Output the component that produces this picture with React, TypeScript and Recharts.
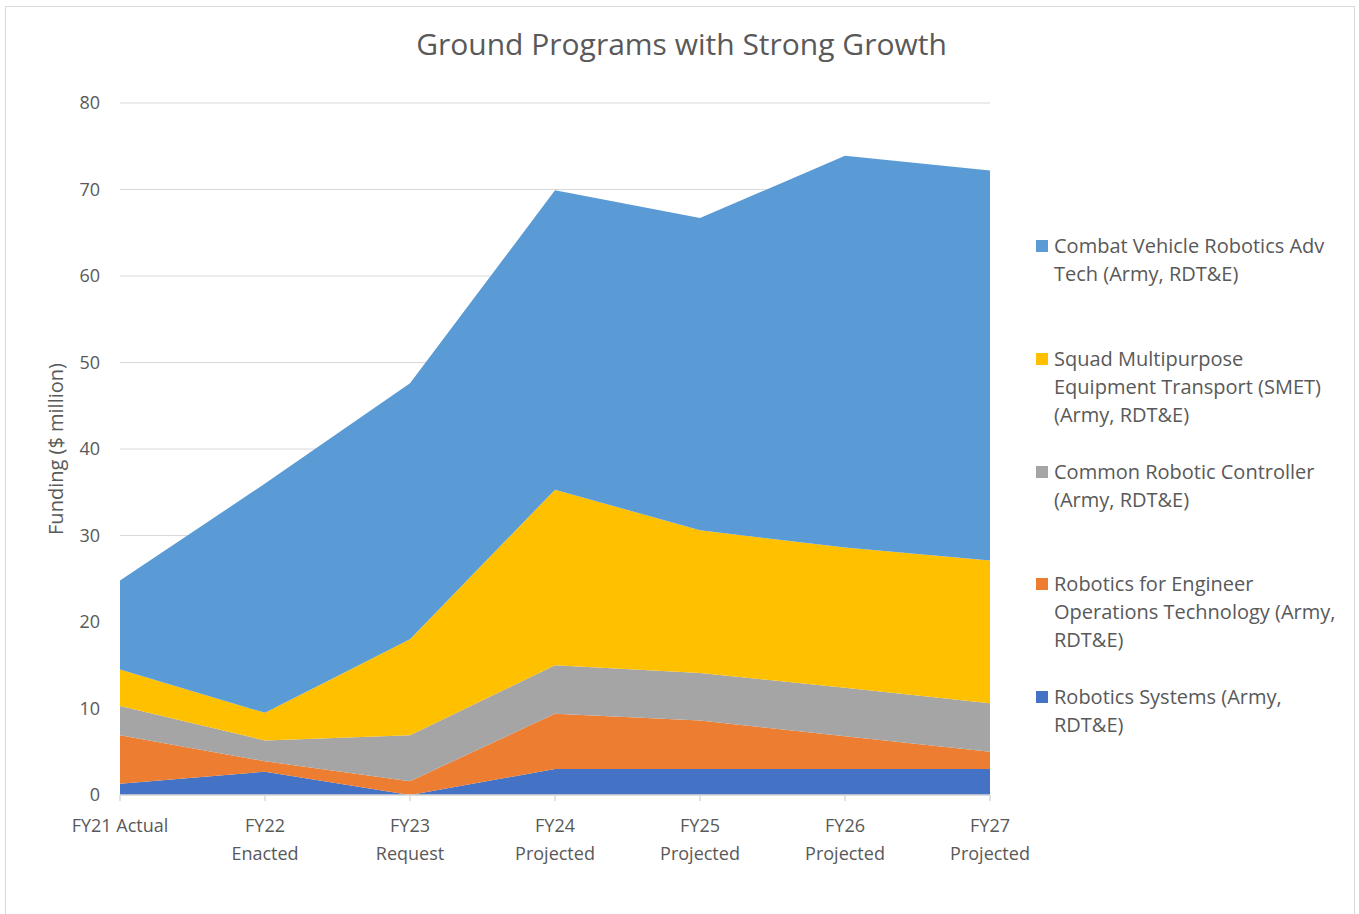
import React from "react";
import { AreaChart, Area, XAxis, YAxis, CartesianGrid, Label } from "recharts";

// Funding by fiscal year ($ million)
const years = ["FY21 Actual", "FY22 Enacted", "FY23 Request", "FY24 Projected", "FY25 Projected", "FY26 Projected", "FY27 Projected"];
const roboticsSystems = [1.3, 2.7, 0, 3.0, 3.0, 3.0, 3.0];
const engineerOps = [5.6, 1.2, 1.6, 6.4, 5.6, 3.8, 2.0];
const commonController = [3.4, 2.4, 5.3, 5.6, 5.5, 5.6, 5.6];
const smet = [4.2, 3.2, 11.1, 20.3, 16.5, 16.2, 16.5];
const combatVehicle = [10.3, 26.5, 29.6, 34.6, 36.1, 45.3, 45.1];
const yTicks = [0, 10, 20, 30, 40, 50, 60, 70, 80];

// Legend entries, top to bottom, with their wrapped label lines
const legendItems = [
  { color: "#5B9BD5", lines: ["Combat Vehicle Robotics Adv", "Tech (Army, RDT&E)"] },
  { color: "#FFC000", lines: ["Squad Multipurpose", "Equipment Transport (SMET)", "(Army, RDT&E)"] },
  { color: "#A5A5A5", lines: ["Common Robotic Controller", "(Army, RDT&E)"] },
  { color: "#ED7D31", lines: ["Robotics for Engineer", "Operations Technology (Army,", "RDT&E)"] },
  { color: "#4472C4", lines: ["Robotics Systems (Army,", "RDT&E)"] },
];

const data = years.map((year, i) => ({
  year,
  rs: roboticsSystems[i],
  reot: engineerOps[i],
  crc: commonController[i],
  smet: smet[i],
  cvr: combatVehicle[i],
}));

const FONT = "'Open Sans', sans-serif";
const TEXT = "#595959";

const YearTick = (props: any) => {
  const { x, y, payload } = props;
  const label: string = payload.value;
  const lines = label === "FY21 Actual" ? [label] : label.split(" ");
  return (
    <g>
      {lines.map((ln, i) => (
        <text
          key={i}
          x={x}
          y={y + 29 + i * 28}
          textAnchor="middle"
          fill={TEXT}
          fontSize={18}
          fontFamily={FONT}
        >
          {ln}
        </text>
      ))}
    </g>
  );
};

const legendTops = [232, 345, 458, 570, 683];

export default function App() {
  return (
    <div style={{ position: "absolute", left: 0, top: 0, width: 1359, height: 914, background: "#fff", overflow: "hidden" }}>
      <div
        style={{
          position: "absolute",
          left: 5,
          top: 6,
          width: 1350,
          height: 920,
          border: "1.5px solid #D9D9D9",
          boxSizing: "border-box",
        }}
      />
      <div
        style={{
          position: "absolute",
          left: 0,
          width: 1359,
          top: 23,
          textAlign: "center",
          fontFamily: FONT,
          fontSize: 30,
          color: TEXT,
          paddingLeft: 2,
        }}
      >
        Ground Programs with Strong Growth
      </div>
      <div style={{ position: "absolute", left: 0, top: 0 }}>
        <AreaChart
          width={1359}
          height={914}
          data={data}
          margin={{ top: 103, right: 369, bottom: 49, left: 20 }}
        >
          <CartesianGrid vertical={false} stroke="#D9D9D9" strokeWidth={1.2} />
          <XAxis
            dataKey="year"
            interval={0}
            height={70}
            stroke="#D9D9D9"
            strokeWidth={1.5}
            tickSize={6}
            tick={<YearTick />}
          />
          <YAxis
            width={100}
            domain={[0, 80]}
            ticks={yTicks}
            interval={0}
            axisLine={false}
            tickLine={false}
            tickSize={0}
            tickMargin={20}
            tick={{ fill: TEXT, fontSize: 18, fontFamily: FONT }}
          >
            <Label
              value="Funding ($ million)"
              angle={-90}
              position="insideLeft"
              offset={36}
              style={{ fill: TEXT, fontSize: 20, fontFamily: FONT, textAnchor: "middle" }}
            />
          </YAxis>
          <Area type="linear" dataKey="rs" stackId="a" stroke="none" fill="#4472C4" fillOpacity={1} isAnimationActive={false} />
          <Area type="linear" dataKey="reot" stackId="a" stroke="none" fill="#ED7D31" fillOpacity={1} isAnimationActive={false} />
          <Area type="linear" dataKey="crc" stackId="a" stroke="none" fill="#A5A5A5" fillOpacity={1} isAnimationActive={false} />
          <Area type="linear" dataKey="smet" stackId="a" stroke="none" fill="#FFC000" fillOpacity={1} isAnimationActive={false} />
          <Area type="linear" dataKey="cvr" stackId="a" stroke="none" fill="#5B9BD5" fillOpacity={1} isAnimationActive={false} />
        </AreaChart>
      </div>
      {legendItems.map((item, i) => (
        <div
          key={i}
          style={{
            position: "absolute",
            left: 1036,
            top: legendTops[i],
            fontFamily: FONT,
            fontSize: 20,
            lineHeight: "28px",
            color: TEXT,
            whiteSpace: "nowrap",
          }}
        >
          <span
            style={{
              position: "absolute",
              left: 0,
              top: 8,
              width: 12,
              height: 12,
              background: item.color,
            }}
          />
          <div style={{ marginLeft: 18 }}>
            {item.lines.map((ln, j) => (
              <div key={j}>{ln}</div>
            ))}
          </div>
        </div>
      ))}
    </div>
  );
}
